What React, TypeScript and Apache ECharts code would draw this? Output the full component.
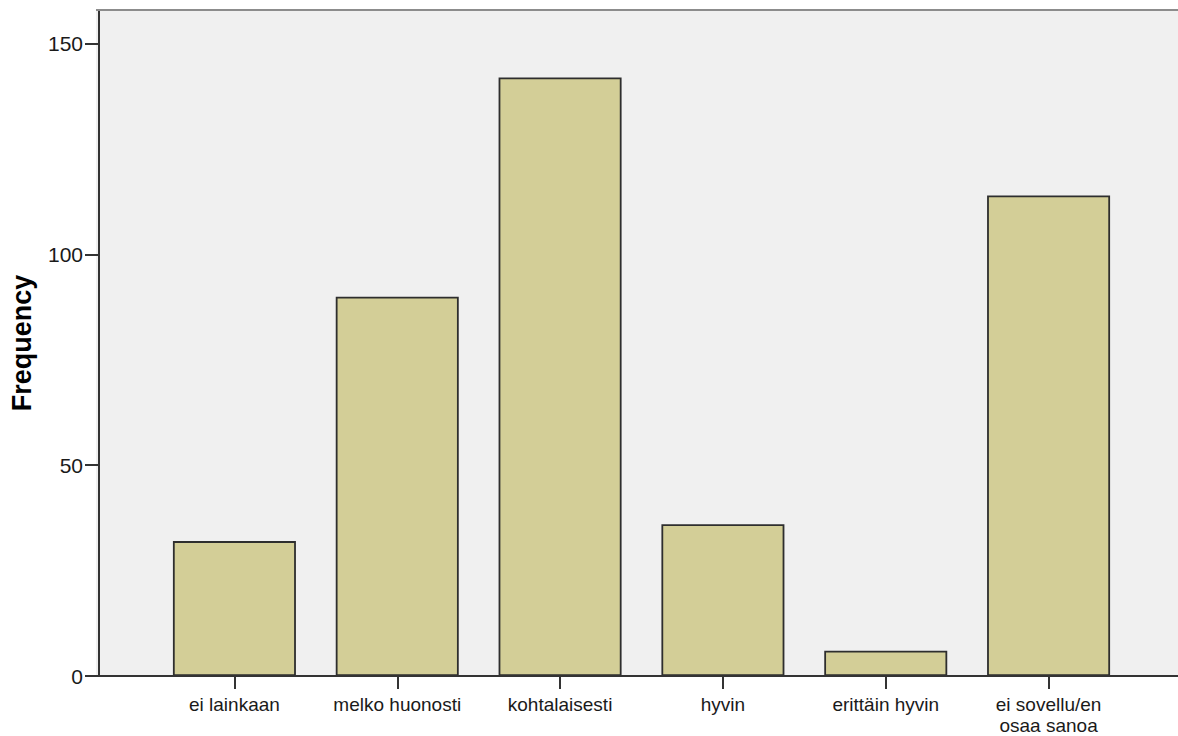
import React, { useEffect, useRef } from "react";
import * as echarts from "echarts";

const categories = [
  "ei lainkaan",
  "melko huonosti",
  "kohtalaisesti",
  "hyvin",
  "erittäin hyvin",
  "ei sovellu/en\nosaa sanoa",
];
const frequencies = [32, 90, 142, 36, 6, 114];
const yTicks = [0, 50, 100, 150];

export default function App() {
  const ref = useRef<HTMLDivElement>(null);
  useEffect(() => {
    document.body.style.margin = "0";
    if (!ref.current) return;
    const chart = echarts.init(ref.current, undefined, { renderer: "svg" });
    const font = "Liberation Sans, Arial, sans-serif";
    chart.setOption({
      animation: false,
      backgroundColor: "#ffffff",
      grid: { left: 150, right: 48, top: 10, bottom: 60, containLabel: false },
      graphic: [
        {
          type: "rect",
          z: -10,
          shape: { x: 96, y: 10, width: 1082, height: 666 },
          style: { fill: "#f0f0f0" },
        },
        {
          type: "line",
          z: 10,
          shape: { x1: 96, y1: 10, x2: 1178, y2: 10 },
          style: { stroke: "#8c8c8c", lineWidth: 2 },
        },
        {
          type: "line",
          z: 10,
          shape: { x1: 96, y1: 676, x2: 1178, y2: 676 },
          style: { stroke: "#333333", lineWidth: 2 },
        },
      ],
      xAxis: {
        type: "category",
        data: categories,
        axisLine: { show: false },
        axisTick: {
          show: true,
          alignWithLabel: true,
          length: 13,
          lineStyle: { color: "#333333", width: 2 },
        },
        axisLabel: {
          margin: 18,
          fontSize: 19,
          fontFamily: font,
          color: "#1a1a1a",
          lineHeight: 21,
          interval: 0,
        },
        splitLine: { show: false },
      },
      yAxis: {
        type: "value",
        min: 0,
        max: 158,
        interval: 50,
        offset: 54,
        name: "Frequency",
        nameLocation: "middle",
        nameRotate: 90,
        nameGap: 64,
        nameTextStyle: {
          fontSize: 27,
          fontWeight: "bold",
          fontFamily: font,
          color: "#000000",
        },
        axisLine: { show: true, lineStyle: { color: "#333333", width: 2 } },
        axisTick: {
          show: true,
          length: 14,
          customValues: yTicks,
          lineStyle: { color: "#333333", width: 2 },
        },
        axisLabel: {
          margin: 16,
          fontSize: 21,
          fontFamily: font,
          color: "#1a1a1a",
          customValues: yTicks,
        },
        splitLine: { show: false },
      },
      series: [
        {
          type: "bar",
          data: frequencies,
          barWidth: 123,
          itemStyle: {
            color: "#d3ce97",
            borderColor: "#2e2e2e",
            borderWidth: 1.8,
          },
        },
      ],
    });
    return () => chart.dispose();
  }, []);
  return <div ref={ref} style={{ width: 1178, height: 736 }} />;
}
